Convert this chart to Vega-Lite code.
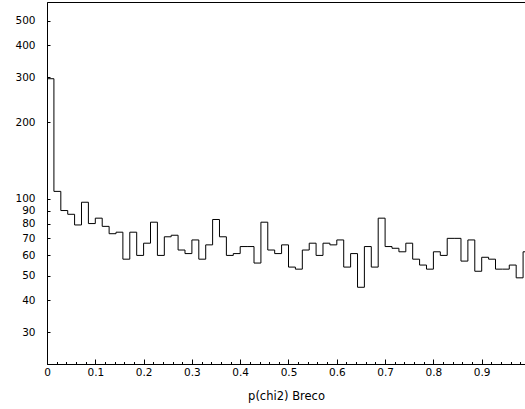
{
  "$schema": "https://vega.github.io/schema/vega-lite/v6.json",
  "autosize": {"type": "none"},
  "padding": {"left": 47, "top": 2, "right": 0, "bottom": 45},
  "width": 478,
  "height": 362,
  "background": "white",
  "config": {
    "view": {"stroke": "black", "strokeWidth": 1},
    "axis": {
      "labelFont": "DejaVu Sans",
      "labelFontSize": 10.5,
      "labelColor": "black",
      "titleFont": "DejaVu Sans",
      "titleFontSize": 11.5,
      "titleFontWeight": "normal",
      "titleColor": "black",
      "domainColor": "black",
      "tickColor": "black",
      "grid": false,
      "labelFlush": false,
      "labelOverlap": false
    }
  },
  "data": {
    "values": [
      {"lo": 0.0, "n": 296}, {"lo": 0.0143, "n": 107}, {"lo": 0.0286, "n": 90}, {"lo": 0.0429, "n": 87},
      {"lo": 0.0571, "n": 79}, {"lo": 0.0714, "n": 97}, {"lo": 0.0857, "n": 80}, {"lo": 0.1, "n": 84},
      {"lo": 0.1143, "n": 78}, {"lo": 0.1286, "n": 73}, {"lo": 0.1429, "n": 74}, {"lo": 0.1571, "n": 58},
      {"lo": 0.1714, "n": 74}, {"lo": 0.1857, "n": 60}, {"lo": 0.2, "n": 67}, {"lo": 0.2143, "n": 81},
      {"lo": 0.2286, "n": 60}, {"lo": 0.2429, "n": 71}, {"lo": 0.2571, "n": 72}, {"lo": 0.2714, "n": 63},
      {"lo": 0.2857, "n": 61}, {"lo": 0.3, "n": 69}, {"lo": 0.3143, "n": 58}, {"lo": 0.3286, "n": 66},
      {"lo": 0.3429, "n": 83}, {"lo": 0.3571, "n": 71}, {"lo": 0.3714, "n": 60}, {"lo": 0.3857, "n": 61},
      {"lo": 0.4, "n": 65}, {"lo": 0.4143, "n": 65}, {"lo": 0.4286, "n": 56}, {"lo": 0.4429, "n": 81},
      {"lo": 0.4571, "n": 63}, {"lo": 0.4714, "n": 61}, {"lo": 0.4857, "n": 66}, {"lo": 0.5, "n": 54},
      {"lo": 0.5143, "n": 53}, {"lo": 0.5286, "n": 63}, {"lo": 0.5429, "n": 67}, {"lo": 0.5571, "n": 60},
      {"lo": 0.5714, "n": 67}, {"lo": 0.5857, "n": 66}, {"lo": 0.6, "n": 69}, {"lo": 0.6143, "n": 54},
      {"lo": 0.6286, "n": 61}, {"lo": 0.6429, "n": 45}, {"lo": 0.6571, "n": 65}, {"lo": 0.6714, "n": 54},
      {"lo": 0.6857, "n": 84}, {"lo": 0.7, "n": 65}, {"lo": 0.7143, "n": 64}, {"lo": 0.7286, "n": 62},
      {"lo": 0.7429, "n": 67}, {"lo": 0.7571, "n": 58}, {"lo": 0.7714, "n": 55}, {"lo": 0.7857, "n": 53},
      {"lo": 0.8, "n": 62}, {"lo": 0.8143, "n": 60}, {"lo": 0.8286, "n": 70}, {"lo": 0.8429, "n": 70},
      {"lo": 0.8571, "n": 57}, {"lo": 0.8714, "n": 69}, {"lo": 0.8857, "n": 52}, {"lo": 0.9, "n": 59},
      {"lo": 0.9143, "n": 58}, {"lo": 0.9286, "n": 53}, {"lo": 0.9429, "n": 53}, {"lo": 0.9571, "n": 55},
      {"lo": 0.9714, "n": 49}, {"lo": 0.9857, "n": 62}, {"lo": 1.0, "n": 62}
    ]
  },
  "mark": {"type": "line", "interpolate": "step-after", "color": "black", "strokeWidth": 1, "clip": true},
  "encoding": {
    "x": {
      "field": "lo",
      "type": "quantitative",
      "scale": {"domain": [0, 0.98965], "nice": false, "zero": false},
      "axis": {
        "title": "p(chi2) Breco",
        "titlePadding": 10,
        "values": [0, 0.02, 0.04, 0.06, 0.08, 0.1, 0.12, 0.14, 0.16, 0.18, 0.2, 0.22, 0.24, 0.26, 0.28, 0.3, 0.32, 0.34, 0.36, 0.38, 0.4, 0.42, 0.44, 0.46, 0.48, 0.5, 0.52, 0.54, 0.56, 0.58, 0.6, 0.62, 0.64, 0.66, 0.68, 0.7, 0.72, 0.74, 0.76, 0.78, 0.8, 0.82, 0.84, 0.86, 0.88, 0.9, 0.92, 0.94, 0.96, 0.98],
        "labelExpr": "abs(datum.value * 10 - round(datum.value * 10)) < 1e-6 ? (datum.value == 0 ? '0' : format(datum.value, '.1f')) : ''",
        "tickSize": {"condition": {"test": "abs(datum.value * 10 - round(datum.value * 10)) < 1e-6", "value": -5}, "value": -2.5},
        "labelPadding": 8
      }
    },
    "y": {
      "field": "n",
      "type": "quantitative",
      "scale": {"type": "log", "domain": [22.5, 592], "nice": false},
      "axis": {
        "title": null,
        "values": [30, 40, 50, 60, 70, 80, 90, 100, 200, 300, 400, 500],
        "format": "d",
        "tickSize": -3,
        "labelPadding": 15
      }
    }
  }
}
